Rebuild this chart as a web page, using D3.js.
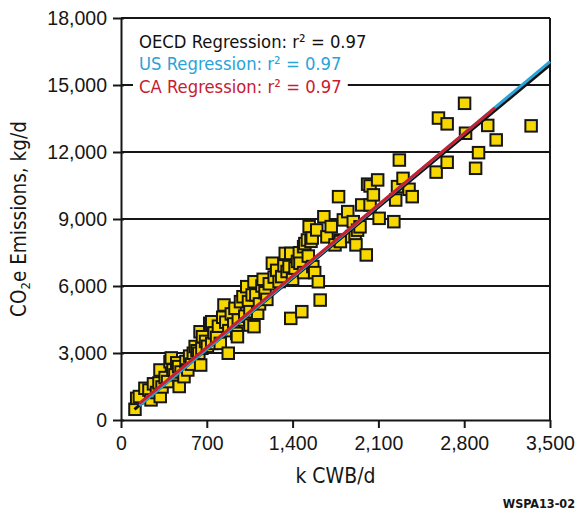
<!DOCTYPE html>
<html>
<head>
<meta charset="utf-8">
<script src="https://cdn.jsdelivr.net/npm/d3@7"></script>
<style>
    body {margin: 0; background: #fff;}
    svg {display: block; font-family: "DejaVu Sans Condensed", "DejaVu Sans", sans-serif; font-stretch: condensed;}
</style>
</head>
<body>
<div id="chart"></div>
<script>
// refinery points: throughput (k CWB/d) and emissions (kg/d)
const cwb = [114, 128, 150, 195, 228, 245, 265, 290, 310, 318, 320, 335, 360, 380, 400, 410, 424, 440, 455, 470,
    475, 490, 514, 530, 545, 560, 575, 590, 605, 620, 635, 645, 650, 660, 665, 690, 705, 724, 740, 740,
    760, 780, 795, 810, 830, 840, 855, 875, 880, 900, 920, 930, 944, 950, 957, 975, 995, 1010, 1026, 1040,
    1052, 1052, 1070, 1085, 1085, 1100, 1115, 1130, 1150, 1160, 1175, 1190, 1210, 1235, 1250, 1270, 1290, 1311, 1330, 1340,
    1355, 1371, 1385, 1385, 1400, 1420, 1440, 1455, 1460, 1475, 1490, 1490, 1500, 1521, 1528, 1535, 1550, 1560, 1565, 1580,
    1597, 1610, 1625, 1655, 1680, 1715, 1746, 1775, 1787, 1790, 1814, 1850, 1882, 1895, 1910, 1917, 1930, 1950, 1964, 2001,
    2012, 2032, 2032, 2059, 2094, 2106, 2226, 2241, 2256, 2271, 2301, 2350, 2376, 2571, 2590, 2661, 2661, 2803, 2811, 2893,
    2917, 2992, 3061, 3346];
const co2 = [480, 970, 1050, 1420, 1340, 900, 1620, 1230, 1660, 2240, 1050, 1480, 1900, 1720, 2610, 2780, 2240, 2020, 2560, 2390,
    1500, 2150, 1940, 2620, 2240, 2860, 2500, 2990, 3290, 3100, 2990, 3950, 2460, 3210, 3730, 3520, 3300, 4330, 4400, 3430,
    3900, 3700, 4200, 3430, 4600, 5150, 4380, 2990, 4000, 4750, 4300, 5000, 3880, 3730, 4480, 5300, 5520, 4650, 5970, 5300,
    4850, 4250, 5600, 6190, 4180, 5600, 4780, 5200, 6000, 6300, 5700, 5400, 6100, 7020, 6400, 6700, 6200, 6420, 6900, 7460,
    6650, 6870, 7460, 4550, 6300, 6800, 7100, 7490, 7020, 4850, 6600, 7760, 7900, 8060, 7340, 8660, 8000, 8150, 6870, 6600,
    8510, 6190, 5370, 9100, 8200, 8660, 7840, 10000, 8060, 7990, 8960, 9330, 8210, 8880, 8210, 7840, 8500, 8650, 9630, 7390,
    10560, 10480, 9630, 10080, 10750, 9030, 8880, 9850, 10450, 11640, 10820, 10330, 10000, 11100, 13520, 13260, 11540, 14180, 12840, 11270,
    11970, 13190, 12540, 13170];

// regression fits
const regNames = ["OECD", "US", "CA"];
const regR2 = [0.97, 0.97, 0.97];
const regSlope = [4.55, 4.6, 4.56];
const regIntercept = [-25, -50, 60];
const regXStart = [110, 150, 150];
const regXEnd = [3500, 3500, 3051];

const xTicks = [0, 700, 1400, 2100, 2800, 3500];
const yTicks = [0, 3000, 6000, 9000, 12000, 15000, 18000];

const regColors = ["#111111", "#2aa3d8", "#c8202f"];

class ScatterD3 {
    margin = {top: 18, right: 27, bottom: 93, left: 121};
    size;
    width;
    height;
    visSvg;

    constructor(el){
        this.el = el;
    }

    create = function (config) {
        this.size = {width: config.size.width, height: config.size.height};
        this.width = this.size.width - this.margin.left - this.margin.right;
        this.height = this.size.height - this.margin.top - this.margin.bottom;

        this.svg = d3.select(this.el).append("svg")
            .attr("width", this.size.width)
            .attr("height", this.size.height);
        this.visSvg = this.svg.append("g")
            .attr("transform", "translate(" + this.margin.left + "," + this.margin.top + ")");
    }

    renderVis = function (){
        const x = d3.scaleLinear().domain([0, 3500]).range([0, this.width]);
        const y = d3.scaleLinear().domain([0, 18000]).range([this.height, 0]);
        const ink = "#161616";

        // horizontal grid lines + right frame
        this.visSvg.append("g")
            .selectAll("line")
            .data(yTicks.filter(d => d > 0))
            .join("line")
            .attr("x1", 0).attr("x2", this.width)
            .attr("y1", d => y(d)).attr("y2", d => y(d))
            .attr("stroke", ink).attr("stroke-width", 2);
        this.visSvg.append("line")
            .attr("x1", this.width).attr("x2", this.width)
            .attr("y1", 0).attr("y2", this.height)
            .attr("stroke", ink).attr("stroke-width", 2);

        // axes
        const yAxisG = this.visSvg.append("g")
            .call(d3.axisLeft(y).tickValues(yTicks).tickFormat(d3.format(","))
                .tickSize(8).tickSizeOuter(0).tickPadding(6));
        const xAxisG = this.visSvg.append("g")
            .attr("transform", "translate(0," + this.height + ")")
            .call(d3.axisBottom(x).tickValues(xTicks).tickFormat(d3.format(","))
                .tickSize(8).tickSizeOuter(0).tickPadding(8));
        [yAxisG, xAxisG].forEach(g => {
            g.select(".domain").attr("stroke", ink).attr("stroke-width", 2);
            g.selectAll(".tick line").attr("stroke", ink).attr("stroke-width", 2);
            g.selectAll(".tick text").attr("fill", ink).style("font-size", "19.5px");
        });
        yAxisG.selectAll(".tick line").attr("x1", 3);

        // legend with white background over the grid
        const legendG = this.visSvg.append("g");
        regNames.forEach((name, i) => {
            const row = legendG.append("g");
            const t = row.append("text")
                .attr("x", 18).attr("y", 30 + i * 22.3)
                .attr("fill", regColors[i])
                .style("font-size", "18.3px")
                .text(name + " Regression: r\u00B2 = " + regR2[i].toFixed(2));
            const bb = t.node().getBBox();
            row.insert("rect", "text")
                .attr("x", bb.x - 6).attr("y", bb.y)
                .attr("width", bb.width + 12).attr("height", bb.height)
                .attr("fill", "#fff");
        });

        // points
        const pts = cwb.map((d, i) => ({x: d, y: co2[i]}));
        const s = 11.5;
        this.visSvg.append("g")
            .selectAll("rect")
            .data(pts)
            .join("rect")
            .attr("x", d => x(d.x) - s / 2)
            .attr("y", d => y(d.y) - s / 2)
            .attr("width", s).attr("height", s)
            .attr("fill", "#f6d800")
            .attr("stroke", ink)
            .attr("stroke-width", 2);

        // regression lines (black, then blue, red on top)
        const fits = regNames.map((n, i) => ([
            {x: regXStart[i], y: regSlope[i] * regXStart[i] + regIntercept[i]},
            {x: regXEnd[i], y: regSlope[i] * regXEnd[i] + regIntercept[i]}
        ]));
        const line = d3.line().x(d => x(d.x)).y(d => y(d.y));
        this.visSvg.append("g")
            .selectAll("path")
            .data(fits)
            .join("path")
            .attr("d", line)
            .attr("fill", "none")
            .attr("stroke", (d, i) => regColors[i])
            .attr("stroke-width", 3);

        // axis titles
        this.svg.append("text")
            .attr("x", this.margin.left + this.width / 2).attr("y", 483)
            .attr("text-anchor", "middle")
            .attr("fill", ink)
            .style("font-size", "21px")
            .text("k CWB/d");
        const yt = this.svg.append("text")
            .attr("transform", "translate(26," + (this.margin.top + this.height / 2) + ") rotate(-90)")
            .attr("text-anchor", "middle")
            .attr("fill", ink)
            .style("font-size", "20.5px");
        yt.append("tspan").text("CO");
        yt.append("tspan").attr("baseline-shift", "-28%").style("font-size", "13px").text("2");
        yt.append("tspan").text("e Emissions, kg/d");

        this.svg.append("text")
            .attr("x", 575).attr("y", 508)
            .attr("text-anchor", "end")
            .attr("fill", ink)
            .style("font-size", "12.5px")
            .style("font-weight", "bold")
            .text("WSPA13-02");
    }
}

const chart = new ScatterD3(document.getElementById("chart"));
chart.create({size: {width: 577, height: 513}});
chart.renderVis();
</script>
</body>
</html>
